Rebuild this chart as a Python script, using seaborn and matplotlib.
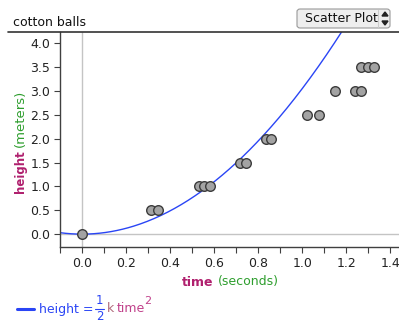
import numpy as np
import pandas as pd
import matplotlib
matplotlib.use("Agg")
import matplotlib.pyplot as plt
import seaborn as sns
from matplotlib.patches import FancyBboxPatch, Polygon
from matplotlib.lines import Line2D

# ---- data ----
time_s = [0.0, 0.315, 0.345, 0.533, 0.556, 0.58, 0.716, 0.745, 0.838, 0.86,
          1.023, 1.077, 1.151, 1.242, 1.267, 1.268, 1.297, 1.327]
height_m = [0.0, 0.5, 0.5, 1.0, 1.0, 1.0, 1.5, 1.5, 2.0, 2.0,
            2.5, 2.5, 3.0, 3.0, 3.0, 3.5, 3.5, 3.5]
k_value = 6.1  # model parameter of height = 1/2 k time^2
x_ticks = [0.0, 0.2, 0.4, 0.6, 0.8, 1.0, 1.2, 1.4]
y_ticks = [0.0, 0.5, 1.0, 1.5, 2.0, 2.5, 3.0, 3.5, 4.0]
title_text = "cotton balls"
menu_text = "Scatter Plot"

W, H = 399, 324
sns.set_theme(style="white")
plt.rcParams['font.family'] = ['DejaVu Sans']
fig = plt.figure(figsize=(W / 100, H / 100), dpi=100)

def fx(px):
    return px / W

def fy(py):
    return 1 - py / H

ax = fig.add_axes([fx(60), fy(247), fx(399) - fx(60), fy(32) - fy(247)])
ax.set_xlim(-0.1, 1.44)
ax.set_ylim(-0.27, 4.24)

# reference lines at 0
ax.axvline(0, color="#c4c4c4", lw=1, zorder=0)
ax.axhline(0, color="#c4c4c4", lw=1, zorder=0)

# model curve
t_model = np.linspace(-0.1, 1.44, 300)
model_df = pd.DataFrame({"time": t_model, "height": 0.5 * k_value * t_model ** 2})
sns.lineplot(data=model_df, x="time", y="height", ax=ax, color="#2a45f5", lw=1.0,
             zorder=2)

df = pd.DataFrame({"time": time_s, "height": height_m})
sns.scatterplot(data=df, x="time", y="height", ax=ax, s=48, color="#a3a3a3",
                edgecolor="#3c3c3c", linewidth=1.0, zorder=3)

ax.set_xlabel("")
ax.set_ylabel("")
for sp in ["top", "right"]:
    ax.spines[sp].set_visible(False)
for sp in ["left", "bottom"]:
    ax.spines[sp].set_color("#404040")
    ax.spines[sp].set_linewidth(1.0)

ax.set_xticks(x_ticks)
ax.set_xticklabels([f"{v:.1f}" for v in x_ticks])
ax.set_xticks(np.arange(-0.1, 1.45, 0.2), minor=True)
ax.set_yticks(y_ticks)
ax.set_yticklabels([f"{v:.1f}" for v in y_ticks])
ax.tick_params(axis="both", which="both", direction="out", length=4, width=0.8,
               color="#404040", labelsize=9, labelcolor="#222222", pad=3)
ax.tick_params(axis="x", which="both", bottom=True)
ax.tick_params(axis="y", which="both", left=True)

# top separator line and title
fig.add_artist(Line2D([fx(8), 1], [fy(32), fy(32)], color="#333333", lw=1.2))
fig.text(fx(13), fy(22), title_text, fontsize=9, color="#111111", va="center",
         ha="left")

# dropdown button
box = FancyBboxPatch((fx(297), fy(28)), fx(93), fy(9) - fy(28),
                     boxstyle="round,pad=0,rounding_size=0.008",
                     transform=fig.transFigure, facecolor="#eeeeee",
                     edgecolor="#999999", lw=0.8)
fig.add_artist(box)
fig.add_artist(Line2D([fx(378), fx(378)], [fy(10), fy(27)], color="#cccccc", lw=0.8))
fig.text(fx(305), fy(18.5), menu_text, fontsize=9, color="#111111", va="center",
         ha="left")
fig.add_artist(Polygon([[fx(382), fy(16)], [fx(388), fy(16)], [fx(385), fy(12)]],
                       closed=True, transform=fig.transFigure, color="#222222"))
fig.add_artist(Polygon([[fx(382), fy(21)], [fx(388), fy(21)], [fx(385), fy(25)]],
                       closed=True, transform=fig.transFigure, color="#222222"))

magenta = "#b0206e"
green = "#2e9e2e"
blue = "#2a45f5"

fig.canvas.draw()
renderer = fig.canvas.get_renderer()

# x label: time (seconds)
t1 = fig.text(fx(182), fy(282), "time", fontsize=9, fontweight="bold",
              color=magenta, ha="left", va="center")
bb = t1.get_window_extent(renderer)
fig.text(bb.x1 / fig.dpi / fig.get_figwidth() + fx(4), fy(282), "(seconds)",
         fontsize=9, color=green, ha="left", va="center")

# y label: height (meters)
t2 = fig.text(fx(20), fy(193), "height", fontsize=8.5, fontweight="bold",
              color=magenta, rotation=90, ha="center", va="bottom")
bb = t2.get_window_extent(renderer)
fig.text(fx(20), bb.y1 / fig.dpi / fig.get_figheight() + fy(H - 3), "(meters)",
         fontsize=9.5, color=green, rotation=90, ha="center", va="bottom")

# legend / equation
fig.add_artist(Line2D([fx(17), fx(34)], [fy(309), fy(309)], color=blue, lw=2.2))
fig.text(fx(39), fy(309), "height =", fontsize=9, color=blue, ha="left",
         va="center")
fig.text(fx(99.5), fy(301), "1", fontsize=8.5, color=blue, ha="center", va="center")
fig.add_artist(Line2D([fx(95), fx(104)], [fy(309), fy(309)], color=blue, lw=0.8))
fig.text(fx(99.5), fy(317), "2", fontsize=8.5, color=blue, ha="center", va="center")
fig.text(fx(107), fy(309), "k", fontsize=9, color="#b06a7a", ha="left", va="center")
fig.text(fx(117), fy(309), "time", fontsize=9, color="#c0408a", ha="left",
         va="center")
fig.text(fx(144.5), fy(301), "2", fontsize=8, color="#c0408a", ha="left", va="center")

fig.savefig("out.png", dpi=100)
